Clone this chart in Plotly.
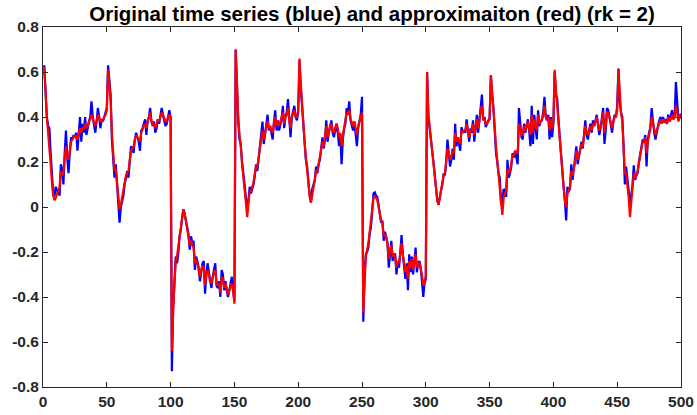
import plotly.graph_objects as go

x_index = list(range(1, 501))

blue_series = [
    0.63, 0.52, 0.40, 0.36, 0.35, 0.24, 0.12, 0.06, 0.05, 0.09,
    0.07, 0.08, 0.05, 0.19, 0.17, 0.10, 0.24, 0.34, 0.22, 0.15,
    0.24, 0.31, 0.30, 0.32, 0.31, 0.33, 0.25, 0.33, 0.40, 0.29,
    0.37, 0.33, 0.40, 0.32, 0.36, 0.38, 0.40, 0.47, 0.40, 0.36,
    0.33, 0.38, 0.44, 0.40, 0.35, 0.39, 0.38, 0.40, 0.42, 0.44,
    0.63, 0.57, 0.50, 0.30, 0.22, 0.13, 0.19, 0.10, 0.03, -0.07,
    0.00, 0.03, 0.05, 0.10, 0.14, 0.16, 0.13, 0.20, 0.27, 0.26,
    0.24, 0.30, 0.33, 0.31, 0.29, 0.25, 0.34, 0.35, 0.37, 0.39,
    0.32, 0.38, 0.40, 0.44, 0.38, 0.36, 0.38, 0.33, 0.35, 0.39,
    0.37, 0.40, 0.44, 0.41, 0.38, 0.36, 0.37, 0.41, 0.43, 0.40,
    -0.73, -0.45, -0.30, -0.22, -0.25, -0.21, -0.13, -0.10, -0.05, -0.01,
    -0.03, -0.06, -0.09, -0.12, -0.19, -0.13, -0.16, -0.15, -0.28, -0.22,
    -0.24, -0.27, -0.33, -0.28, -0.25, -0.24, -0.385, -0.30, -0.25, -0.29,
    -0.33, -0.36, -0.31, -0.28, -0.25, -0.35, -0.36, -0.33, -0.40, -0.28,
    -0.30, -0.37, -0.33, -0.37, -0.40, -0.37, -0.33, -0.31, -0.37, -0.42,
    0.70, 0.49, 0.38, 0.30, 0.28, 0.20, 0.13, 0.10, 0.04, 0.00,
    0.03, 0.09, 0.06, 0.08, 0.10, 0.14, 0.19, 0.16, 0.22, 0.25,
    0.31, 0.38, 0.28, 0.33, 0.36, 0.41, 0.34, 0.36, 0.33, 0.30,
    0.38, 0.43, 0.34, 0.385, 0.34, 0.37, 0.39, 0.45, 0.35, 0.40,
    0.42, 0.48, 0.385, 0.31, 0.40, 0.43, 0.45, 0.40, 0.385, 0.42,
    0.65, 0.53, 0.45, 0.385, 0.30, 0.21, 0.18, 0.09, 0.05, 0.02,
    0.08, 0.10, 0.12, 0.18, 0.15, 0.19, 0.21, 0.26, 0.31, 0.26,
    0.30, 0.385, 0.29, 0.33, 0.36, 0.385, 0.33, 0.31, 0.34, 0.37,
    0.33, 0.27, 0.32, 0.19, 0.30, 0.35, 0.37, 0.44, 0.42, 0.47,
    0.385, 0.36, 0.34, 0.38, 0.33, 0.27, 0.35, 0.385, 0.41, 0.49,
    -0.51, -0.30, -0.21, -0.20, -0.18, -0.12, -0.09, -0.02, 0.06, 0.065,
    0.05, 0.045, 0.00, -0.04, -0.07, -0.06, -0.15, -0.11, -0.13, -0.16,
    -0.27, -0.19, -0.15, -0.24, -0.21, -0.21, -0.30, -0.24, -0.27, -0.20,
    -0.125, -0.21, -0.26, -0.32, -0.25, -0.37, -0.21, -0.29, -0.22, -0.30,
    -0.24, -0.18, -0.29, -0.25, -0.24, -0.27, -0.33, -0.40, -0.34, -0.32,
    0.60, 0.40, 0.35, 0.31, 0.25, 0.20, 0.15, 0.10, 0.03, 0.01,
    0.05, 0.075, 0.10, 0.15, 0.14, 0.20, 0.30, 0.24, 0.18, 0.21,
    0.26, 0.21, 0.37, 0.27, 0.31, 0.28, 0.25, 0.355, 0.33, 0.34,
    0.33, 0.39, 0.32, 0.29, 0.35, 0.33, 0.385, 0.29, 0.35, 0.41,
    0.33, 0.38, 0.46, 0.50, 0.385, 0.40, 0.355, 0.37, 0.385, 0.39,
    0.585, 0.50, 0.44, 0.34, 0.24, 0.20, 0.15, 0.13, 0.015, 0.03,
    0.08, 0.075, 0.045, 0.21, 0.13, 0.15, 0.18, 0.24, 0.22, 0.25,
    0.21, 0.19, 0.44, 0.35, 0.31, 0.30, 0.37, 0.33, 0.36, 0.39,
    0.34, 0.27, 0.45, 0.28, 0.41, 0.36, 0.30, 0.43, 0.36, 0.38,
    0.385, 0.42, 0.49, 0.40, 0.385, 0.41, 0.30, 0.40, 0.31, 0.37,
    0.60, 0.50, 0.48, 0.385, 0.30, 0.22, 0.18, 0.09, 0.03, -0.06,
    0.09, 0.07, 0.08, 0.19, 0.12, 0.17, 0.20, 0.27, 0.19, 0.23,
    0.26, 0.29, 0.26, 0.32, 0.385, 0.32, 0.30, 0.34, 0.37, 0.33,
    0.385, 0.36, 0.38, 0.41, 0.36, 0.32, 0.35, 0.385, 0.44, 0.28,
    0.34, 0.44, 0.43, 0.40, 0.36, 0.33, 0.38, 0.41, 0.40, 0.45,
    0.615, 0.47, 0.42, 0.40, 0.27, 0.10, 0.18, 0.12, 0.075, 0.02,
    0.05, 0.10, 0.185, 0.12, 0.14, 0.15, 0.20, 0.24, 0.26, 0.30,
    0.29, 0.32, 0.18, 0.30, 0.33, 0.355, 0.44, 0.38, 0.33, 0.30,
    0.34, 0.36, 0.385, 0.40, 0.37, 0.40, 0.38, 0.385, 0.37, 0.41,
    0.38, 0.40, 0.43, 0.39, 0.40, 0.555, 0.47, 0.385, 0.40, 0.415,
]

red_series = [
    0.62, 0.50, 0.40, 0.33, 0.27, 0.19, 0.11, 0.05, 0.03, 0.04,
    0.06, 0.07, 0.09, 0.16, 0.14, 0.15, 0.22, 0.27, 0.22, 0.21,
    0.25, 0.29, 0.30, 0.31, 0.32, 0.31, 0.30, 0.33, 0.35, 0.33,
    0.35, 0.35, 0.37, 0.35, 0.36, 0.38, 0.39, 0.41, 0.39, 0.37,
    0.36, 0.38, 0.41, 0.40, 0.38, 0.38, 0.39, 0.40, 0.41, 0.43,
    0.61, 0.55, 0.47, 0.33, 0.24, 0.16, 0.17, 0.10, 0.04, -0.01,
    0.01, 0.04, 0.07, 0.11, 0.14, 0.15, 0.16, 0.21, 0.25, 0.26,
    0.27, 0.30, 0.32, 0.31, 0.30, 0.29, 0.33, 0.35, 0.36, 0.37,
    0.35, 0.38, 0.40, 0.42, 0.38, 0.37, 0.37, 0.35, 0.37, 0.39,
    0.38, 0.40, 0.42, 0.41, 0.39, 0.38, 0.38, 0.40, 0.41, 0.40,
    -0.64, -0.46, -0.33, -0.24, -0.22, -0.18, -0.12, -0.08, -0.04, -0.01,
    -0.03, -0.06, -0.09, -0.13, -0.17, -0.15, -0.17, -0.18, -0.25, -0.23,
    -0.25, -0.28, -0.31, -0.28, -0.26, -0.27, -0.35, -0.30, -0.28, -0.30,
    -0.33, -0.34, -0.31, -0.29, -0.28, -0.34, -0.35, -0.34, -0.38, -0.31,
    -0.32, -0.36, -0.34, -0.37, -0.39, -0.37, -0.35, -0.34, -0.37, -0.43,
    0.70, 0.50, 0.40, 0.32, 0.27, 0.19, 0.12, 0.08, 0.02, -0.045,
    0.01, 0.07, 0.07, 0.09, 0.11, 0.15, 0.18, 0.18, 0.22, 0.26,
    0.30, 0.34, 0.30, 0.33, 0.35, 0.38, 0.35, 0.36, 0.34, 0.33,
    0.37, 0.40, 0.36, 0.38, 0.36, 0.38, 0.39, 0.42, 0.37, 0.40,
    0.41, 0.44, 0.39, 0.35, 0.40, 0.42, 0.43, 0.40, 0.40, 0.43,
    0.66, 0.55, 0.45, 0.37, 0.29, 0.22, 0.16, 0.10, 0.05, 0.02,
    0.05, 0.09, 0.12, 0.16, 0.16, 0.19, 0.22, 0.26, 0.29, 0.27,
    0.31, 0.36, 0.31, 0.34, 0.36, 0.37, 0.34, 0.33, 0.35, 0.37,
    0.35, 0.31, 0.33, 0.27, 0.32, 0.36, 0.38, 0.42, 0.41, 0.43,
    0.39, 0.37, 0.36, 0.38, 0.35, 0.32, 0.36, 0.38, 0.40, 0.42,
    -0.47, -0.30, -0.22, -0.19, -0.16, -0.11, -0.07, -0.01, 0.04, 0.05,
    0.04, 0.03, 0.00, -0.04, -0.06, -0.07, -0.13, -0.12, -0.13, -0.17,
    -0.23, -0.19, -0.17, -0.22, -0.21, -0.22, -0.27, -0.24, -0.25, -0.21,
    -0.16, -0.21, -0.25, -0.29, -0.26, -0.32, -0.24, -0.27, -0.23, -0.28,
    -0.24, -0.21, -0.27, -0.25, -0.25, -0.27, -0.30, -0.35, -0.33, -0.31,
    0.60, 0.42, 0.36, 0.31, 0.26, 0.20, 0.14, 0.08, 0.03, 0.01,
    0.04, 0.07, 0.10, 0.14, 0.15, 0.20, 0.26, 0.24, 0.21, 0.22,
    0.25, 0.24, 0.33, 0.29, 0.31, 0.29, 0.28, 0.34, 0.33, 0.34,
    0.34, 0.37, 0.33, 0.31, 0.34, 0.34, 0.37, 0.32, 0.35, 0.39,
    0.35, 0.38, 0.43, 0.45, 0.39, 0.39, 0.37, 0.37, 0.38, 0.40,
    0.585, 0.52, 0.44, 0.36, 0.27, 0.20, 0.13, 0.08, 0.02, -0.035,
    0.04, 0.06, 0.07, 0.17, 0.15, 0.16, 0.19, 0.23, 0.23, 0.25,
    0.24, 0.24, 0.37, 0.34, 0.32, 0.32, 0.36, 0.34, 0.36, 0.38,
    0.35, 0.32, 0.41, 0.33, 0.39, 0.36, 0.34, 0.41, 0.37, 0.38,
    0.39, 0.41, 0.45, 0.40, 0.39, 0.40, 0.34, 0.39, 0.35, 0.38,
    0.61, 0.52, 0.46, 0.38, 0.30, 0.22, 0.16, 0.09, 0.03, 0.00,
    0.06, 0.07, 0.09, 0.16, 0.14, 0.17, 0.20, 0.25, 0.21, 0.23,
    0.26, 0.28, 0.27, 0.31, 0.36, 0.33, 0.32, 0.34, 0.36, 0.34,
    0.37, 0.36, 0.38, 0.40, 0.37, 0.34, 0.36, 0.38, 0.42, 0.33,
    0.36, 0.42, 0.42, 0.40, 0.37, 0.35, 0.38, 0.40, 0.40, 0.43,
    0.61, 0.50, 0.42, 0.38, 0.28, 0.15, 0.15, 0.10, 0.04, -0.045,
    0.03, 0.09, 0.15, 0.13, 0.14, 0.16, 0.20, 0.23, 0.26, 0.29,
    0.29, 0.31, 0.24, 0.29, 0.32, 0.35, 0.40, 0.37, 0.34, 0.32,
    0.34, 0.36, 0.38, 0.39, 0.37, 0.39, 0.38, 0.38, 0.37, 0.40,
    0.38, 0.39, 0.41, 0.39, 0.40, 0.45, 0.42, 0.38, 0.40, 0.41,
]

x_ticks = [0, 50, 100, 150, 200, 250, 300, 350, 400, 450, 500]
y_ticks = [-0.8, -0.6, -0.4, -0.2, 0, 0.2, 0.4, 0.6, 0.8]
y_tick_labels = ["-0.8", "-0.6", "-0.4", "-0.2", "0", "0.2", "0.4", "0.6", "0.8"]

title_text = "Original time series (blue) and approximaiton (red) (rk = 2)"

fig = go.Figure()
fig.add_trace(go.Scatter(x=x_index, y=blue_series, mode="lines",
                         line=dict(color="#0000FF", width=2.2), showlegend=False))
fig.add_trace(go.Scatter(x=x_index, y=red_series, mode="lines",
                         line=dict(color="#FF0000", width=2.2), showlegend=False))

axis_font = dict(family="Liberation Sans, Arial, sans-serif", size=15.5, color="#262626")
fig.update_layout(
    width=697, height=415,
    margin=dict(l=43, r=16, t=27, b=28, autoexpand=False),
    paper_bgcolor="white", plot_bgcolor="white",
    title=dict(text="<b>" + title_text + "</b>", x=372 / 697, xanchor="center",
               y=1 - 14 / 415, yanchor="middle",
               font=dict(family="Liberation Sans, Arial, sans-serif", size=20.5, color="black")),
)
fig.update_xaxes(range=[0, 500], tickvals=x_ticks, ticktext=["<b>%d</b>" % v for v in x_ticks],
                 ticks="inside", ticklen=5, tickcolor="#262626", showline=True, linecolor="#262626",
                 linewidth=1, mirror="ticks", showgrid=False, zeroline=False, tickfont=axis_font,
                 automargin=False)
fig.update_yaxes(range=[-0.8, 0.8], tickvals=y_ticks, ticktext=["<b>%s</b>" % t for t in y_tick_labels],
                 ticks="inside", ticklen=5, tickcolor="#262626", showline=True, linecolor="#262626",
                 linewidth=1, mirror="ticks", showgrid=False, zeroline=False, tickfont=axis_font,
                 automargin=False)

fig.write_html("out.html")
